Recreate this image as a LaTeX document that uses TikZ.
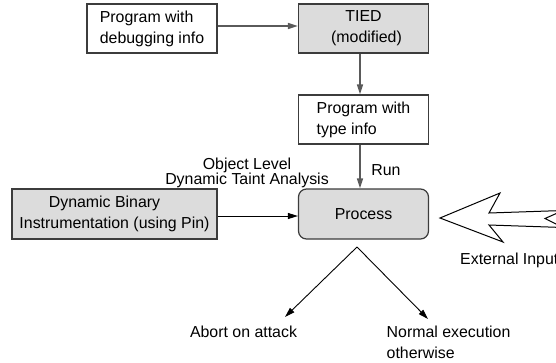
\documentclass[tikz,border=0pt]{standalone}
\usepackage{fontspec}
\setmainfont{Liberation Sans}
\usetikzlibrary{arrows.meta}
\definecolor{boxgray}{HTML}{DCDCDC}
\definecolor{edgegray}{HTML}{3C3C3C}
\definecolor{linegray}{HTML}{5A5A5A}
\begin{document}
\begin{tikzpicture}[x=1pt,y=-1pt,
  boxstyle/.style={draw=edgegray, line width=1.2pt, rectangle, minimum width=130pt, minimum height=49pt,
    inner sep=0pt, font=\fontsize{15.9}{21}\selectfont},
  grayfill/.style={fill=boxgray},
  lbl/.style={inner sep=0pt, font=\fontsize{15.9}{21}\selectfont},
  mainarrow/.style={draw=linegray, line width=1.4pt, -{Triangle[length=10pt,width=6pt]}},
  thinarrow/.style={draw=black, line width=0.9pt, -{Triangle[length=10pt,width=6pt]}}
]
\useasboundingbox (0,0) rectangle (556,362);

% boxes
\node[boxstyle, align=left] (box1) at (152,28.5) {Program with\\debugging info};
\node[boxstyle, grayfill, align=center] (tied) at (363.5,28.5) {TIED\\\hspace*{6pt}(modified)};
\node[boxstyle, align=left] (typeinfo) at (363.5,119.5) {Program with\\type info};
\node[boxstyle, grayfill, rounded corners=8pt, minimum height=50pt] (process) at (363.5,214) {Process};
\node[boxstyle, grayfill, minimum width=205pt, minimum height=50pt, align=center] (dbi) at (114.5,214)
  {Dynamic Binary\hspace*{20pt}\\Instrumentation (using Pin)};

% connectors
\draw[mainarrow] ([yshift=2.5pt]box1.east) -- ([yshift=2.5pt]tied.west);
\draw[mainarrow] ([xshift=-3.5pt]tied.south) -- ([xshift=-3.5pt]typeinfo.north);
\draw[mainarrow] ([xshift=-3.5pt]typeinfo.south) -- ([xshift=-3.5pt]process.north);
\draw[thinarrow] ([yshift=-2pt]dbi.east) -- ([yshift=-2pt]process.west);

% labels
\node[lbl] (run) at (386,170) {Run};
\node[lbl, align=center, font=\fontsize{15.9}{15.7}\selectfont] (otda) at (247,173) {Object Level\\Dynamic Taint Analysis};
\node[lbl] (abort) at (243.5,332) {Abort on attack};
\node[lbl, align=left, anchor=west] (normal) at (386.5,342.5) {Normal execution\\otherwise};
\node[lbl, anchor=west] (extin) at (460,260) {External Input};

% split of the outcome arrows
\coordinate (split) at (357,247);
\coordinate (aborttip) at (285,317);
\coordinate (normaltip) at (428,319);
\draw[thinarrow] (split) -- (aborttip);
\draw[thinarrow] (split) -- (normaltip);

% big hollow arrow (external input)
\begin{scope}
\clip (0,0) rectangle (556,362);
\draw[black, line width=1pt, fill=white, line join=miter]
  (440,218) -- (500,193) -- (489,213) -- (563,210.5) -- (545,218.5) -- (563,227.5)
  -- (489,225) -- (503,242) -- cycle;
\end{scope}
\end{tikzpicture}
\end{document}
